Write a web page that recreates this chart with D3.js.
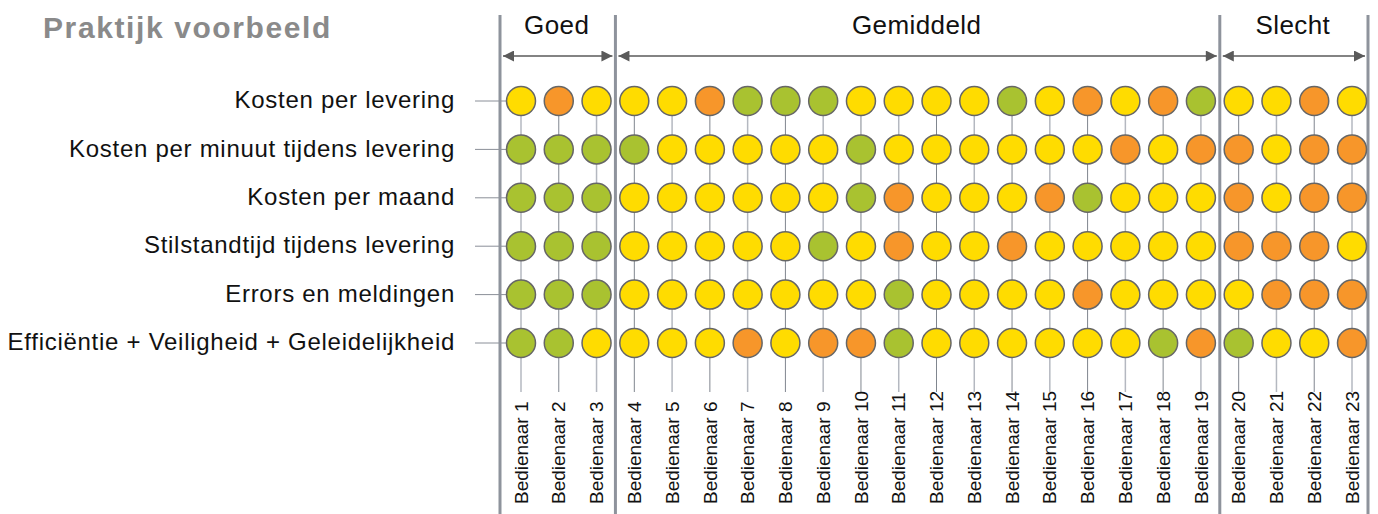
<!DOCTYPE html>
<html>
<head>
<meta charset="utf-8">
<script src="https://cdn.jsdelivr.net/npm/d3@7"></script>
<style>
  body { margin: 0; background: #fff; }
  svg { display: block; font-family: "Liberation Sans", Arial, sans-serif; }
</style>
</head>
<body>
<svg width="1378" height="514"></svg>
<script>
const title = "Praktijk voorbeeld";

const criteria = [
  "Kosten per levering",
  "Kosten per minuut tijdens levering",
  "Kosten per maand",
  "Stilstandtijd tijdens levering",
  "Errors en meldingen",
  "Efficiëntie + Veiligheid + Geleidelijkheid"
];

const operators = d3.range(1, 24).map(i => "Bedienaar " + i);

const groups = [
  { name: "Goed", from: 0, to: 2 },
  { name: "Gemiddeld", from: 3, to: 18 },
  { name: "Slecht", from: 19, to: 22 }
];

// G = goed (groen), Y = gemiddeld (geel), O = slecht (oranje)
const scores = [
  "YOYYYOGGGYYYYGYOYOGYYOY",
  "GGGGYYYYYGYYYYYYOYOOYOO",
  "GGGYYYYYYGOYYYOGYYYOYOO",
  "GGGYYYYYGYOYYOYYYYYOOOY",
  "GGGYYYYYYYGYYYYOYYYYOOO",
  "GGYYYYOYOOGYYYYYYGOGYYO"
];

const colors = { G: "#a9c230", Y: "#ffdc00", O: "#f7962a" };

const svg = d3.select("svg");

const x = d3.scalePoint().domain(operators).range([521, 1352]);
const y = d3.scalePoint().domain(criteria).range([101, 343]);
const r = 14.5;

// title
svg.append("text")
  .attr("x", 43).attr("y", 38)
  .attr("font-size", 30).attr("font-weight", "bold")
  .attr("letter-spacing", 1.6)
  .attr("fill", "#8a8a8a")
  .text(title);

// vertical connector lines per column
svg.append("g").selectAll("line")
  .data(operators)
  .join("line")
  .attr("x1", d => x(d)).attr("x2", d => x(d))
  .attr("y1", y(criteria[0])).attr("y2", 392)
  .attr("stroke", (d, i) => i % 2 ? "#80868f" : "#b4b8c0")
  .attr("stroke-width", (d, i) => i % 2 ? 1 : 1.5);

// row tick lines
svg.append("g").selectAll("line")
  .data(criteria)
  .join("line")
  .attr("x1", 475).attr("x2", x(operators[0]))
  .attr("y1", d => y(d)).attr("y2", d => y(d))
  .attr("stroke", "#8a8f98").attr("stroke-width", 1);

// row labels
svg.append("g").selectAll("text")
  .data(criteria)
  .join("text")
  .attr("x", 455).attr("y", d => y(d))
  .attr("dy", "0.3em")
  .attr("text-anchor", "end")
  .attr("font-size", 24)
  .attr("letter-spacing", 0.72)
  .attr("fill", "#111")
  .text(d => d);

// group separators
const seps = [x(operators[0]) - 21];
groups.slice(0, -1).forEach((g, i) => {
  seps.push((x(operators[g.to]) + x(operators[groups[i + 1].from])) / 2);
});
seps.push(x(operators[operators.length - 1]) + 16);

svg.append("g").selectAll("line")
  .data(seps)
  .join("line")
  .attr("x1", d => d).attr("x2", d => d)
  .attr("y1", 15).attr("y2", 514)
  .attr("stroke", "#8e939c").attr("stroke-width", 3);

// arrows and group labels
const defs = svg.append("defs");
defs.append("marker")
  .attr("id", "ah")
  .attr("viewBox", "0 0 10 10")
  .attr("refX", 10).attr("refY", 5)
  .attr("markerWidth", 16).attr("markerHeight", 11)
  .attr("markerUnits", "userSpaceOnUse")
  .attr("orient", "auto-start-reverse")
  .append("path")
  .attr("d", "M0,0L10,5L0,10Z")
  .attr("fill", "#5a5a5a");

const arrowY = 56;
groups.forEach((g, i) => {
  const left = seps[i] + 3, right = seps[i + 1] - 3;
  svg.append("line")
    .attr("x1", left).attr("x2", right)
    .attr("y1", arrowY).attr("y2", arrowY)
    .attr("stroke", "#5a5a5a").attr("stroke-width", 1.5)
    .attr("marker-start", "url(#ah)")
    .attr("marker-end", "url(#ah)");
  svg.append("text")
    .attr("x", (seps[i] + seps[i + 1]) / 2 - 1).attr("y", 34)
    .attr("text-anchor", "middle")
    .attr("font-size", 26)
    .attr("letter-spacing", 0.4)
    .attr("fill", "#111")
    .text(g.name);
});

// circles
const cells = [];
scores.forEach((row, ri) => {
  row.split("").forEach((s, ci) => cells.push({ c: criteria[ri], o: operators[ci], s }));
});

svg.append("g").selectAll("circle")
  .data(cells)
  .join("circle")
  .attr("cx", d => x(d.o)).attr("cy", d => y(d.c))
  .attr("r", r)
  .attr("fill", d => colors[d.s])
  .attr("stroke", "#666").attr("stroke-width", 1.5);

// column labels
svg.append("g").selectAll("text")
  .data(operators)
  .join("text")
  .attr("transform", d => `translate(${x(d)},504) rotate(-90)`)
  .attr("dy", "0.35em")
  .attr("font-size", 19)
  .attr("fill", "#111")
  .text(d => d);
</script>
</body>
</html>
